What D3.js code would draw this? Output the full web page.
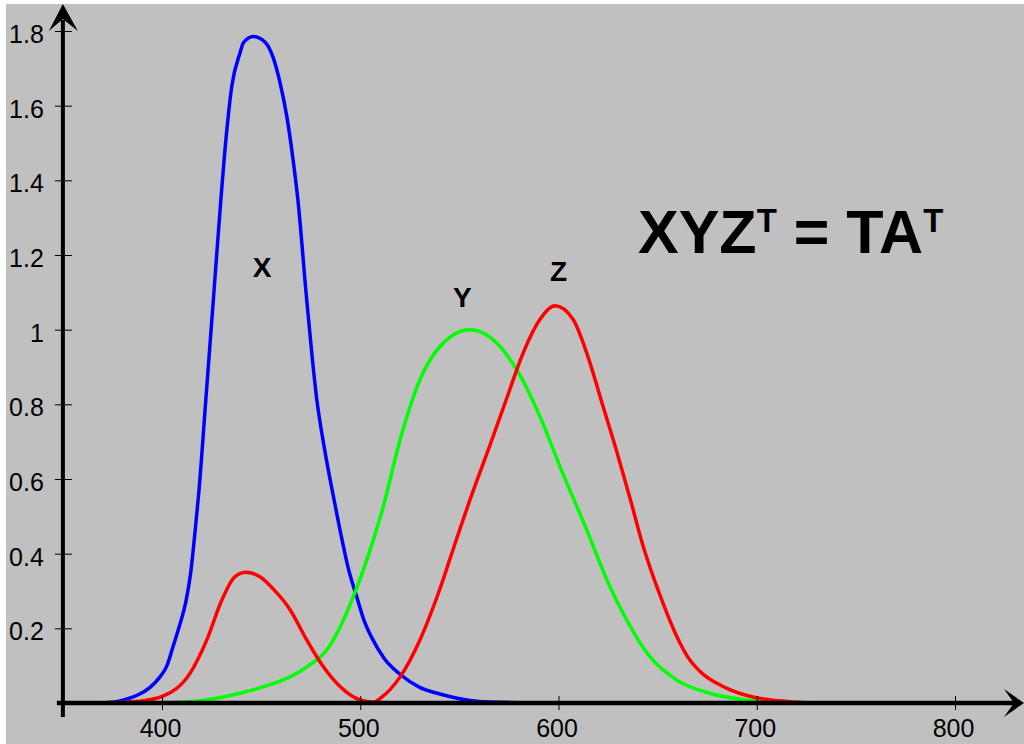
<!DOCTYPE html>
<html lang="en">
<head>
    <meta charset="UTF-8">
    <title>XYZ colour matching functions</title>
    <script src="https://d3js.org/d3.v7.min.js"></script>
    <style>
        body { margin: 0; background: #fff; }
        svg { display: block; }
        text { font-family: "Liberation Sans", Arial, sans-serif; fill: #000; }
    </style>
</head>
<body>
    <script>
        //data (wavelength in nm, value)
        const xWl  = [366, 376, 382, 388, 394, 399, 402.5, 405.5, 409, 412, 414.5, 416.5, 418.5, 422.1, 425.9, 429.7, 432.4, 435.2, 439.4, 441.1, 446.1, 452, 456, 459.6, 463, 466, 468.5, 473, 478.1, 482, 486.8, 490.7, 494, 498.2, 502, 506.4, 512, 520.5, 530, 540.2, 558.7, 586];
        const xVal = [0, 0.003, 0.01, 0.022, 0.042, 0.07, 0.1, 0.15, 0.21, 0.27, 0.35, 0.45, 0.56, 0.812, 1.08, 1.349, 1.518, 1.652, 1.742, 1.769, 1.785, 1.77, 1.73, 1.66, 1.57, 1.46, 1.35, 1.08, 0.812, 0.68, 0.544, 0.44, 0.36, 0.285, 0.22, 0.169, 0.12, 0.075, 0.042, 0.024, 0.005, 0];

        const yWl  = [400, 419.2, 439.4, 452, 464.6, 474, 483.1, 490, 496.5, 506.6, 511.6, 520.1, 530.1, 540.2, 555.3, 570.5, 578.9, 590.6, 600.7, 614.2, 625.9, 634.3, 646.1, 659.5, 676.3, 694.7, 720];
        const yVal = [0, 0.006, 0.026, 0.045, 0.07, 0.1, 0.142, 0.205, 0.285, 0.437, 0.526, 0.705, 0.866, 0.955, 1.0, 0.955, 0.893, 0.768, 0.634, 0.464, 0.312, 0.223, 0.124, 0.062, 0.026, 0.008, 0];

        const zWl  = [370, 388.7, 400.7, 414.2, 422.6, 430.2, 436.7, 442.4, 449.4, 456.2, 464.6, 473, 481.4, 489.8, 499.9, 506.6, 510.7, 520.1, 530.1, 540.2, 548, 556.4, 565.4, 573.8, 582.2, 590.6, 598.2, 607.4, 614.2, 622.5, 629.3, 636, 642.7, 651.1, 659.5, 665, 671.3, 684.7, 698.1, 718, 735];
        const zVal = [0, 0.005, 0.019, 0.08, 0.169, 0.276, 0.338, 0.35, 0.338, 0.305, 0.25, 0.169, 0.097, 0.044, 0.008, 0.002, 0.015, 0.07, 0.169, 0.306, 0.43, 0.56, 0.69, 0.815, 0.938, 1.027, 1.064, 1.027, 0.938, 0.794, 0.675, 0.55, 0.42, 0.29, 0.18, 0.125, 0.085, 0.04, 0.016, 0.003, 0];

        const xTicks = [400, 500, 600, 700, 800];
        const yTicks = [0.2, 0.4, 0.6, 0.8, 1, 1.2, 1.4, 1.6, 1.8];

        const w = 1024;
        const h = 744;

        const svg = d3.select("body").append("svg")
        .attr("width", w)
        .attr("height", h);

        //grey panel, small white strip top and left
        svg.append("rect")
        .attr("x", 6)
        .attr("y", 4)
        .attr("width", w - 6)
        .attr("height", h - 4)
        .attr("fill", "#c0c0c0");

        const x = d3.scaleLinear().domain([400, 800]).range([162, 955]);
        const y = d3.scaleLinear().domain([0, 1.8]).range([703, 31]);

        const x0 = x(350);
        const y0 = y(0);

        const line = d3.line()
        .x(d => x(d[0]))
        .y(d => y(d[1]))
        .curve(d3.curveMonotoneX);

        const curves = [
            {wl: xWl, val: xVal, color: "#0000ff"},
            {wl: yWl, val: yVal, color: "#00ff00"},
            {wl: zWl, val: zVal, color: "#ff0000"}
        ];

        svg.selectAll("path.curve")
        .data(curves)
        .enter()
        .append("path")
        .attr("class", "curve")
        .attr("d", c => line(c.wl.map((v, i) => [v, c.val[i]])))
        .attr("fill", "none")
        .attr("stroke", c => c.color)
        .attr("stroke-width", 3.5)
        .attr("stroke-linejoin", "round");

        //x axis ticks and labels
        const xAxis = svg.append("g")
        .attr("transform", "translate(0," + y0 + ")")
        .call(d3.axisBottom(x).tickValues(xTicks).tickSize(0).tickFormat(d3.format("d")));
        xAxis.select(".domain").remove();
        xAxis.selectAll(".tick line")
        .attr("y1", -7)
        .attr("y2", 7)
        .attr("stroke", "#000")
        .attr("stroke-width", 1);
        xAxis.selectAll(".tick text")
        .attr("x", -2)
        .attr("y", 34)
        .attr("dy", 0)
        .style("font-size", "25px")
        .style("font-family", "'Liberation Sans', Arial, sans-serif")
        .attr("fill", "#000");

        //y axis ticks and labels
        const yAxis = svg.append("g")
        .attr("transform", "translate(" + x0 + ",0)")
        .call(d3.axisLeft(y).tickValues(yTicks).tickSize(0).tickFormat(d3.format("~g")));
        yAxis.select(".domain").remove();
        yAxis.selectAll(".tick line")
        .attr("x1", -8)
        .attr("x2", 9)
        .attr("stroke", "#000")
        .attr("stroke-width", 1);
        yAxis.selectAll(".tick text")
        .attr("x", -19)
        .attr("y", 11.5)
        .attr("dy", 0)
        .style("font-size", "25px")
        .style("font-family", "'Liberation Sans', Arial, sans-serif")
        .attr("fill", "#000");

        //thick axis lines with arrow heads
        svg.append("line")
        .attr("x1", x0 - 6).attr("y1", y0)
        .attr("x2", 1015).attr("y2", y0)
        .attr("stroke", "#000")
        .attr("stroke-width", 4.5);

        svg.append("line")
        .attr("x1", x0).attr("y1", y0 + 14)
        .attr("x2", x0).attr("y2", 20)
        .attr("stroke", "#000")
        .attr("stroke-width", 4);

        svg.append("path")
        .attr("d", "M" + x0 + ",4 L" + (x0 + 15) + ",31 L" + x0 + ",19 L" + (x0 - 14) + ",31 Z")
        .attr("fill", "#000");

        svg.append("path")
        .attr("d", "M1024," + y0 + " L1004," + (y0 - 14) + " L1014," + y0 + " L1004," + (y0 + 14) + " Z")
        .attr("fill", "#000");

        //curve labels
        const labels = [
            {t: "X", wl: 450.5, v: 1.14},
            {t: "Y", wl: 551.5, v: 1.06},
            {t: "Z", wl: 600, v: 1.13}
        ];
        svg.selectAll("text.lab")
        .data(labels)
        .enter()
        .append("text")
        .attr("class", "lab")
        .attr("x", d => x(d.wl))
        .attr("y", d => y(d.v))
        .attr("text-anchor", "middle")
        .style("font-size", "28px")
        .style("font-weight", "bold")
        .text(d => d.t);

        //equation
        const eq = svg.append("text")
        .attr("x", 638)
        .attr("y", 253)
        .style("font-size", "61px")
        .style("font-weight", "bold");
        eq.append("tspan").text("XYZ");
        eq.append("tspan").attr("dy", -21).style("font-size", "33px").text("T");
        eq.append("tspan").attr("dy", 21).text(" = TA");
        eq.append("tspan").attr("dy", -21).style("font-size", "33px").text("T");
    </script>
</body>
</html>
